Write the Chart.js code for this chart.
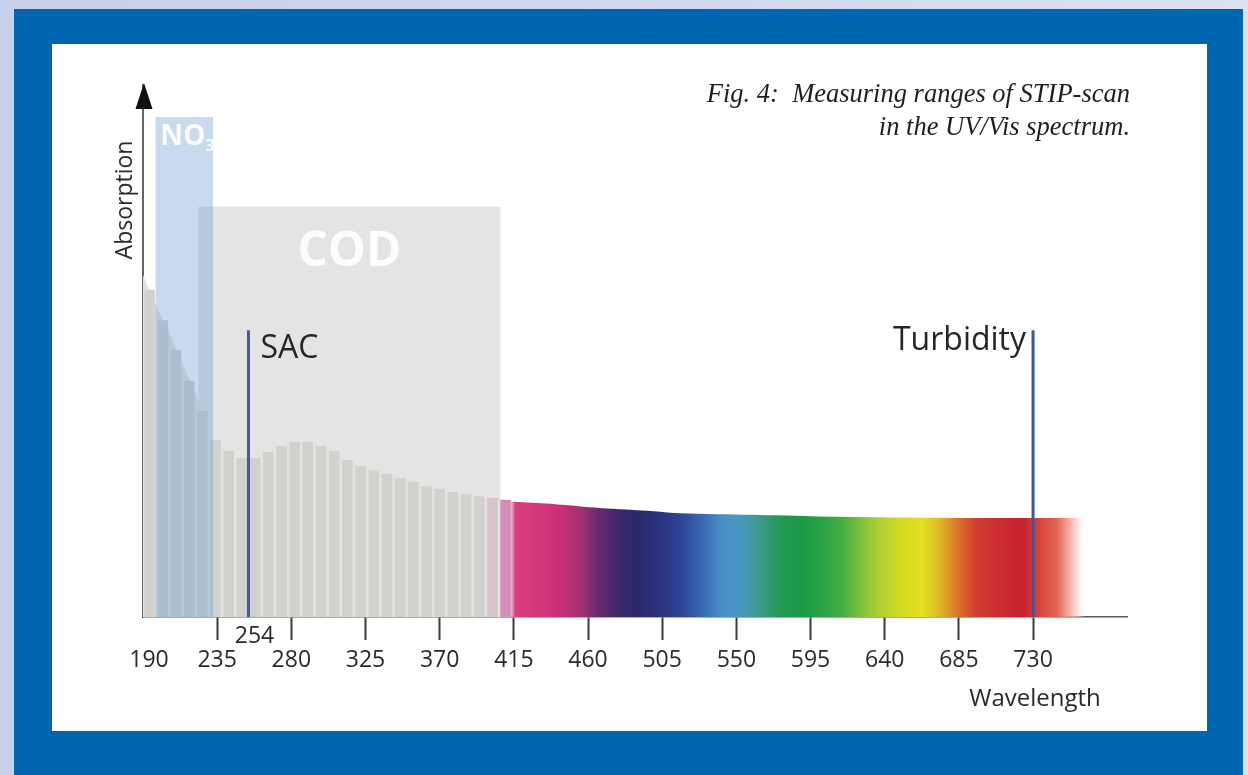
<!DOCTYPE html>
<html><head><meta charset="utf-8">
<script src="https://cdn.jsdelivr.net/npm/chart.js@4.4.1/dist/chart.umd.min.js"></script>
<style>
html,body{margin:0;padding:0;width:1248px;height:775px;overflow:hidden;background:linear-gradient(90deg,#c6d0ea,#dbe1f3);}
#frame{position:absolute;left:14px;top:9px;width:1229px;height:766px;background:#0166b2;}
#panel{position:absolute;left:52px;top:44px;width:1155px;height:687px;background:#fff;}
#c{position:absolute;left:0;top:0;width:1248px;height:775px;}
</style></head><body>
<div id="frame"></div><div id="panel"></div>
<canvas id="c" width="1248" height="775"></canvas>
<script>
// ---- data ----
const tickWavelengths = [190,235,280,325,370,415,460,505,550,595,640,685,730];
const uvWavelengths = [194,202,210,218,226,234,242,250,258,266,274,282,290,298,306,314,322,330,338,346,354,362,370,378,386,394,402,410];
const uvAbsorption  = [61.5,55.8,50.2,44.4,38.7,33.3,31.2,29.9,29.9,31.0,32.1,32.9,32.9,32.1,31.2,29.5,28.4,27.6,26.9,26.1,25.4,24.6,24.1,23.5,23.1,22.7,22.4,22.0];
const uvCurveWavelengths = [190,197,207,216,225,234,240,247,255,259,267,276,285,295,305,318,336,356,376,396,413];
const uvCurveAbsorption  = [64.3,59.2,52.6,46.1,39.7,33.3,31.4,30.1,29.7,30.1,31.2,32.3,32.9,32.5,31.4,28.9,27.1,25.2,23.5,22.6,22.0];
const visWavelengths = [413,418,440,467,500,516,560,600,650,700,765];
const visAbsorption  = [21.7,21.6,21.2,20.5,19.9,19.5,19.2,18.9,18.7,18.6,18.6];
const no3Range = [197.5,232.6];
const no3Level = 94;
const codRange = [223.5,407];
const codLevel = 77.1;
const sacWavelength = 254;
const turbidityWavelength = 730;
const markerLevel = 53.9;
const axisRange = [190,787];
const absorptionRange = [0,100];

// ---- styles ----
const spectrumStops = [
 [413,'#f4c0dc'],[416,'#d8407f'],[440,'#cf3079'],[455,'#a83074'],[465,'#6e2a70'],[480,'#38286a'],
 [492,'#2a2a6c'],[505,'#2c3482'],[518,'#30479a'],[530,'#3a6cb2'],[542,'#4a90c8'],[552,'#4a98c4'],
 [560,'#46999e'],[568,'#35997a'],[578,'#22994e'],[590,'#1a9a48'],[605,'#2ea442'],[615,'#48b040'],
 [628,'#8cc43a'],[640,'#b8d22e'],[652,'#d8dc20'],[662,'#e2e020'],[671,'#e0c426'],[678,'#de9a2a'],
 [686,'#d86a2a'],[695,'#d04030'],[710,'#cc2c30'],[724,'#c82030'],[735,'#d84840'],[744,'#e06452'],
 [750,'rgba(240,140,125,0.9)'],[756,'rgba(248,196,188,0.7)'],[762,'rgba(255,255,255,0)']
];
const FONT = '"Open Sans", "DejaVu Sans", sans-serif';

function box(range, level){
  return [{x:range[0],y:0},{x:range[0],y:level},{x:range[1],y:level},{x:range[1],y:0}];
}
function barColor(w){
  if (w >= 408) return '#d48cb8';
  if (w >= 400) return '#d6c4cb';
  return '#d1d1cd';
}
function spectrumFill(ctx){
  const chart = ctx.chart;
  if (!chart.chartArea) return '#c82030';
  const xs = chart.scales.x;
  const x0 = xs.getPixelForValue(spectrumStops[0][0]);
  const x1 = xs.getPixelForValue(spectrumStops[spectrumStops.length-1][0]);
  const g = chart.ctx.createLinearGradient(x0,0,x1,0);
  spectrumStops.forEach(s=>{
    g.addColorStop((xs.getPixelForValue(s[0])-x0)/(x1-x0), s[1]);
  });
  return g;
}

const annotations = {
  id:'annotations',
  afterDatasetsDraw(chart){
    const {ctx, scales:{x,y}, chartArea:a} = chart;
    ctx.save();
    // COD label
    ctx.fillStyle='rgba(255,255,255,0.93)';
    ctx.font='bold 48px '+FONT;
    ctx.textAlign='center'; ctx.textBaseline='alphabetic';
    ctx.fillText('COD',(x.getPixelForValue(codRange[0])+x.getPixelForValue(codRange[1]))/2, 266);
    // NO3 label
    ctx.textAlign='left';
    ctx.font='bold 28px '+FONT;
    const nx = x.getPixelForValue(no3Range[0])+5;
    ctx.fillText('NO',nx,145);
    const nw = ctx.measureText('NO').width;
    ctx.font='bold 16px '+FONT;
    ctx.fillText('3',nx+nw,151);
    // SAC and Turbidity labels
    ctx.fillStyle='#262626';
    ctx.font='32px '+FONT;
    ctx.textAlign='left';
    ctx.fillText('SAC', x.getPixelForValue(sacWavelength)+12, 358);
    ctx.textAlign='right';
    ctx.fillText('Turbidity', x.getPixelForValue(turbidityWavelength)-7, 350);
    // 254 label
    ctx.font='23px '+FONT; ctx.textAlign='center'; ctx.fillStyle='#2a2a2a';
    ctx.fillText(String(sacWavelength), x.getPixelForValue(sacWavelength)+6, 643);
    // axis arrow head
    ctx.fillStyle='#111';
    ctx.beginPath();
    ctx.moveTo(a.left+1, a.top-2);
    ctx.lineTo(a.left+9.5, a.top+24);
    ctx.lineTo(a.left-7.5, a.top+24);
    ctx.closePath(); ctx.fill();
    // axis titles
    ctx.fillStyle='#2a2a2a';
    ctx.font='23px '+FONT;
    ctx.save();
    ctx.translate(125,200); ctx.rotate(-Math.PI/2);
    ctx.textAlign='center'; ctx.textBaseline='middle';
    ctx.fillText('Absorption',0,0);
    ctx.restore();
    ctx.font='24px '+FONT; ctx.textAlign='center'; ctx.textBaseline='alphabetic';
    ctx.fillText('Wavelength',1035,706);
    // caption
    ctx.fillStyle='#1e1e1e';
    ctx.font='italic 26.5px "Liberation Serif", "DejaVu Serif", serif';
    ctx.textAlign='right';
    ctx.fillText('Fig. 4:  Measuring ranges of STIP-scan',1130,102);
    ctx.fillText('in the UV/Vis spectrum.',1130,135);
    ctx.restore();
  }
};

new Chart(document.getElementById('c'),{
  type:'bar',
  data:{
    datasets:[
      {type:'line', label:'COD', data:box(codRange,codLevel), fill:'origin',
       backgroundColor:'#e4e4e4', borderWidth:0, pointRadius:0, tension:0, order:7},
      {type:'line', label:'UV absorption curve', data:uvCurveWavelengths.map((w,i)=>({x:w,y:uvCurveAbsorption[i]})),
       fill:'origin', backgroundColor:'#e2e2df', borderWidth:0, pointRadius:0,
       cubicInterpolationMode:'monotone', clip:0, order:6},
      {type:'bar', label:'UV absorption', data:uvWavelengths.map((w,i)=>({x:w,y:uvAbsorption[i]})),
       backgroundColor:uvWavelengths.map(barColor), borderWidth:0, barPercentage:0.8, categoryPercentage:1, order:5},
      {type:'line', label:'Visible spectrum', data:visWavelengths.map((w,i)=>({x:w,y:visAbsorption[i]})),
       fill:'origin', backgroundColor:spectrumFill, borderWidth:0, pointRadius:0, tension:0.3, order:4},
      {type:'line', label:'NO3', data:box(no3Range,no3Level), fill:'origin',
       backgroundColor:'rgba(110,160,210,0.38)', borderWidth:0, pointRadius:0, tension:0, order:3},
      {type:'line', label:'SAC', data:[{x:sacWavelength,y:0},{x:sacWavelength,y:markerLevel}],
       borderColor:'#3f5ca8', borderWidth:3, pointRadius:0, fill:false, order:1},
      {type:'line', label:'Turbidity', data:[{x:turbidityWavelength,y:0},{x:turbidityWavelength,y:markerLevel}],
       borderColor:'#3b5796', borderWidth:3, pointRadius:0, fill:false, order:1}
    ]
  },
  options:{
    responsive:false, animation:false, devicePixelRatio:1,
    layout:{padding:{left:143,right:121,top:85,bottom:0}},
    plugins:{legend:{display:false}, tooltip:{enabled:false}, title:{display:false}},
    scales:{
      x:{type:'linear', min:axisRange[0], max:axisRange[1], offset:false, position:'bottom',
         afterFit(s){ s.height = 158; },
         afterBuildTicks(s){ s.ticks = tickWavelengths.map(v=>({value:v})); },
         ticks:{ font:{family:FONT, size:23}, color:'#2a2a2a', padding:7, maxRotation:0, autoSkip:false,
                 callback:(v)=> v===axisRange[0] ? '  '+v : String(v) },
         grid:{ display:true, offset:false, drawOnChartArea:false, drawTicks:true, tickLength:23, tickWidth:2,
                tickColor:(c)=> (c.tick && c.tick.value===190) ? 'rgba(0,0,0,0)' : '#3a3a3a' },
         border:{display:true, color:'#5a5a5a', width:1.5}
      },
      y:{type:'linear', min:absorptionRange[0], max:absorptionRange[1], position:'left',
         afterFit(s){ s.width = 0; },
         ticks:{display:false},
         grid:{display:false, drawTicks:false},
         border:{display:true, color:'#666', width:2}
      }
    }
  },
  plugins:[annotations]
});
</script>
</body></html>
